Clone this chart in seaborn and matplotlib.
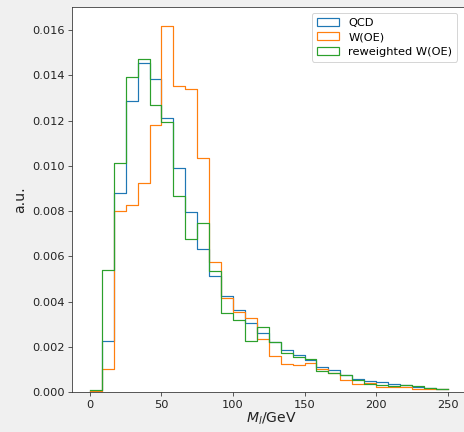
import numpy as np
import pandas as pd
import matplotlib
matplotlib.use("Agg")
import matplotlib.pyplot as plt
from matplotlib.patches import Patch
import seaborn as sns

# 30 bins from 0 to 250 GeV
n_bins = 30
x_min, x_max = 0, 250
bin_edges = np.linspace(x_min, x_max, n_bins + 1)
bin_centers = 0.5 * (bin_edges[:-1] + bin_edges[1:])

series_names = ["QCD", "W(OE)", "reweighted W(OE)"]

qcd = [0.00005, 0.00227, 0.00878, 0.01286, 0.01453, 0.01382, 0.01210, 0.00991,
       0.00794, 0.00633, 0.00514, 0.00426, 0.00364, 0.00306, 0.00259, 0.00220,
       0.00186, 0.00162, 0.00140, 0.00110, 0.00097, 0.00075, 0.00059, 0.00050,
       0.00044, 0.00036, 0.00033, 0.00021, 0.00018, 0.00013]
woe = [0.00005, 0.00102, 0.00801, 0.00827, 0.00925, 0.01180, 0.01618, 0.01353,
       0.01338, 0.01035, 0.00573, 0.00416, 0.00352, 0.00326, 0.00233, 0.00159,
       0.00125, 0.00120, 0.00130, 0.00100, 0.00085, 0.00053, 0.00034, 0.00038,
       0.00021, 0.00020, 0.00020, 0.00015, 0.00015, 0.00012]
rw = [0.00010, 0.00540, 0.01013, 0.01394, 0.01470, 0.01268, 0.01195, 0.00865,
      0.00677, 0.00748, 0.00535, 0.00349, 0.00317, 0.00226, 0.00288, 0.00220,
      0.00174, 0.00156, 0.00148, 0.00095, 0.00084, 0.00074, 0.00054, 0.00034,
      0.00030, 0.00028, 0.00030, 0.00025, 0.00017, 0.00013]

series_values = [qcd, woe, rw]
colors = ["#1f77b4", "#ff7f0e", "#2ca02c"]

fig = plt.figure(figsize=(464 / 72, 432 / 72), dpi=72, facecolor="#f0f0f0")
px_per_unit = 357.7 / 250.0
ax_w_px = 398
ax = fig.add_axes([72 / 464, 40 / 432, ax_w_px / 464, 385 / 432])
ax.set_facecolor("white")

for vals, col in zip(series_values, colors):
    df = pd.DataFrame({"x": bin_centers, "w": vals})
    sns.histplot(data=df, x="x", weights="w", bins=n_bins, binrange=(x_min, x_max),
                 element="step", fill=False, color=col, linewidth=1.2, ax=ax)

x_lo = -12.5
ax.set_xlim(x_lo, x_lo + ax_w_px / px_per_unit)
ax.set_ylim(0, 0.01702)
ax.set_yticks(np.arange(0, 0.0161, 0.002))
ax.set_xticks([0, 50, 100, 150, 200, 250])
ax.tick_params(labelsize=11.4, length=4, color="#333333", labelcolor="#222222")
for sp in ax.spines.values():
    sp.set_color("#333333")
ax.spines["right"].set_visible(False)
ax.set_ylabel("a.u.", fontsize=14, color="#222222", labelpad=5)
ax.set_xlabel(r"$M_l$/GeV", fontsize=14, labelpad=1, color="#222222")

handles = [Patch(facecolor="none", edgecolor=c, linewidth=1.2) for c in colors]
ax.legend(handles, series_names, loc="upper right", fontsize=11.4,
          bbox_to_anchor=(457 / 464, 1 - 13 / 432), bbox_transform=fig.transFigure,
          borderaxespad=0, handlelength=2.0, handletextpad=0.8, labelspacing=0.42)

fig.savefig("out.png", dpi=72, facecolor=fig.get_facecolor())
